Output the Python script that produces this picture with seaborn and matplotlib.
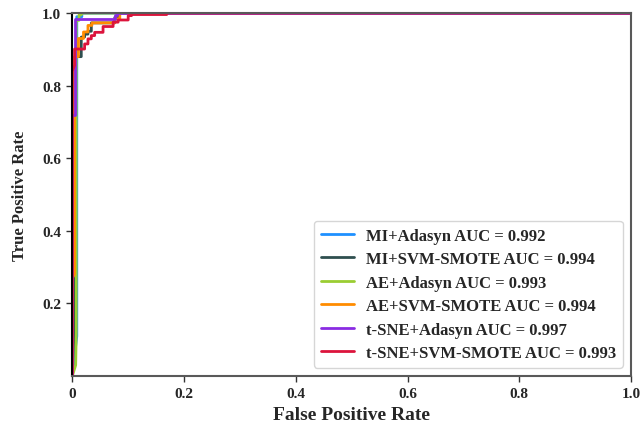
import numpy as np
import pandas as pd
import matplotlib
matplotlib.use("Agg")
import matplotlib.pyplot as plt
import seaborn as sns

# ---- data ----
labels = ["MI+Adasyn AUC = 0.992", "MI+SVM-SMOTE AUC = 0.994", "AE+Adasyn AUC = 0.993",
          "AE+SVM-SMOTE AUC = 0.994", "t-SNE+Adasyn AUC = 0.997", "t-SNE+SVM-SMOTE AUC = 0.993"]
colors = ["#1E90FF", "#2F4F4F", "#9ACD32", "#FF8C00", "#8A2BE2", "#DC143C"]

mi_adasyn_fpr = [0, 0.008, 0.008, 0.017, 0.017, 1.0]
mi_adasyn_tpr = [0, 0.11, 0.99, 0.99, 1.0, 1.0]

mi_svm_fpr = [0, 0.005, 0.005, 0.016, 0.016, 0.022, 0.022, 0.028, 0.028, 0.034, 0.034, 0.076, 0.076, 0.082, 0.082, 1.0]
mi_svm_tpr = [0, 0.2, 0.88, 0.88, 0.934, 0.934, 0.942, 0.942, 0.95, 0.95, 0.973, 0.973, 0.988, 0.988, 1.0, 1.0]

ae_adasyn_fpr = [0, 0.006, 0.007, 0.007, 0.012, 0.012, 0.016, 0.016, 1.0]
ae_adasyn_tpr = [0, 0.03, 0.12, 0.98, 0.98, 0.995, 0.995, 1.0, 1.0]

ae_svm_fpr = [0, 0, 0.004, 0.004, 0.011, 0.011, 0.02, 0.02, 0.028, 0.028, 0.035, 0.035, 0.076, 0.076, 0.085, 0.085, 1.0]
ae_svm_tpr = [0, 0.27, 0.28, 0.88, 0.88, 0.93, 0.93, 0.948, 0.948, 0.966, 0.966, 0.973, 0.973, 0.984, 0.984, 1.0, 1.0]

tsne_adasyn_fpr = [0, 0, 0.005, 0.005, 0.076, 0.076, 0.08, 0.08, 1.0]
tsne_adasyn_tpr = [0, 0.72, 0.72, 0.984, 0.984, 0.996, 0.996, 1.0, 1.0]

tsne_svm_fpr = [0, 0, 0.004, 0.004, 0.022, 0.022, 0.028, 0.028, 0.034, 0.034, 0.040, 0.040, 0.055, 0.055,
                0.073, 0.073, 0.082, 0.082, 0.100, 0.100, 0.106, 0.106, 0.169, 0.169, 1.0]
tsne_svm_tpr = [0, 0.84, 0.856, 0.901, 0.901, 0.915, 0.915, 0.929, 0.929, 0.938, 0.938, 0.947, 0.947, 0.963,
                0.963, 0.975, 0.975, 0.981, 0.981, 0.993, 0.993, 0.996, 0.996, 1.0, 1.0]

x_ticks = [0, 0.2, 0.4, 0.6, 0.8, 1.0]
x_ticklabels = ["0", "0.2", "0.4", "0.6", "0.8", "1.0"]
y_ticks = [0.2, 0.4, 0.6, 0.8, 1.0]
y_ticklabels = ["0.2", "0.4", "0.6", "0.8", "1.0"]

curves = [(mi_adasyn_fpr, mi_adasyn_tpr), (mi_svm_fpr, mi_svm_tpr), (ae_adasyn_fpr, ae_adasyn_tpr),
          (ae_svm_fpr, ae_svm_tpr), (tsne_adasyn_fpr, tsne_adasyn_tpr), (tsne_svm_fpr, tsne_svm_tpr)]

# ---- style ----
sns.set_theme(style="ticks")
plt.rcParams["font.family"] = ["Liberation Serif", "DejaVu Serif"]
plt.rcParams["font.weight"] = "bold"

fig = plt.figure(figsize=(6.4, 4.27), dpi=100)
ax = fig.add_axes([0.113, 0.117, 0.873, 0.850])

for (fpr, tpr), lab, col in zip(curves, labels, colors):
    sns.lineplot(x=fpr, y=tpr, sort=False, estimator=None, color=col, linewidth=2,
                 label=lab, ax=ax)

ax.set_xlim(0, 1)
ax.set_ylim(0, 1)
ax.set_xticks(x_ticks)
ax.set_xticklabels(x_ticklabels, fontsize=11, fontweight="bold")
ax.set_yticks(y_ticks)
ax.set_yticklabels(y_ticklabels, fontsize=11, fontweight="bold")
ax.tick_params(axis="both", direction="out", length=4, width=1, color="0.2", pad=4,
               top=False, right=False)

for side in ["bottom", "right", "top"]:
    ax.spines[side].set_color("0.35")
    ax.spines[side].set_linewidth(1.5)
ax.spines["left"].set_color("black")
ax.spines["left"].set_linewidth(1.5)

ax.set_xlabel("False Positive Rate", fontsize=14, fontweight="bold", labelpad=4)
ax.set_ylabel("True Positive Rate", fontsize=12, fontweight="bold", labelpad=10)

leg = ax.legend(loc="lower right", frameon=True, fancybox=True,
                prop={"weight": "bold", "size": 12}, handlelength=2.0, handletextpad=0.7,
                labelspacing=0.45, borderaxespad=0.5)
leg.get_frame().set_edgecolor("0.8")

fig.savefig("out.png", dpi=100)
